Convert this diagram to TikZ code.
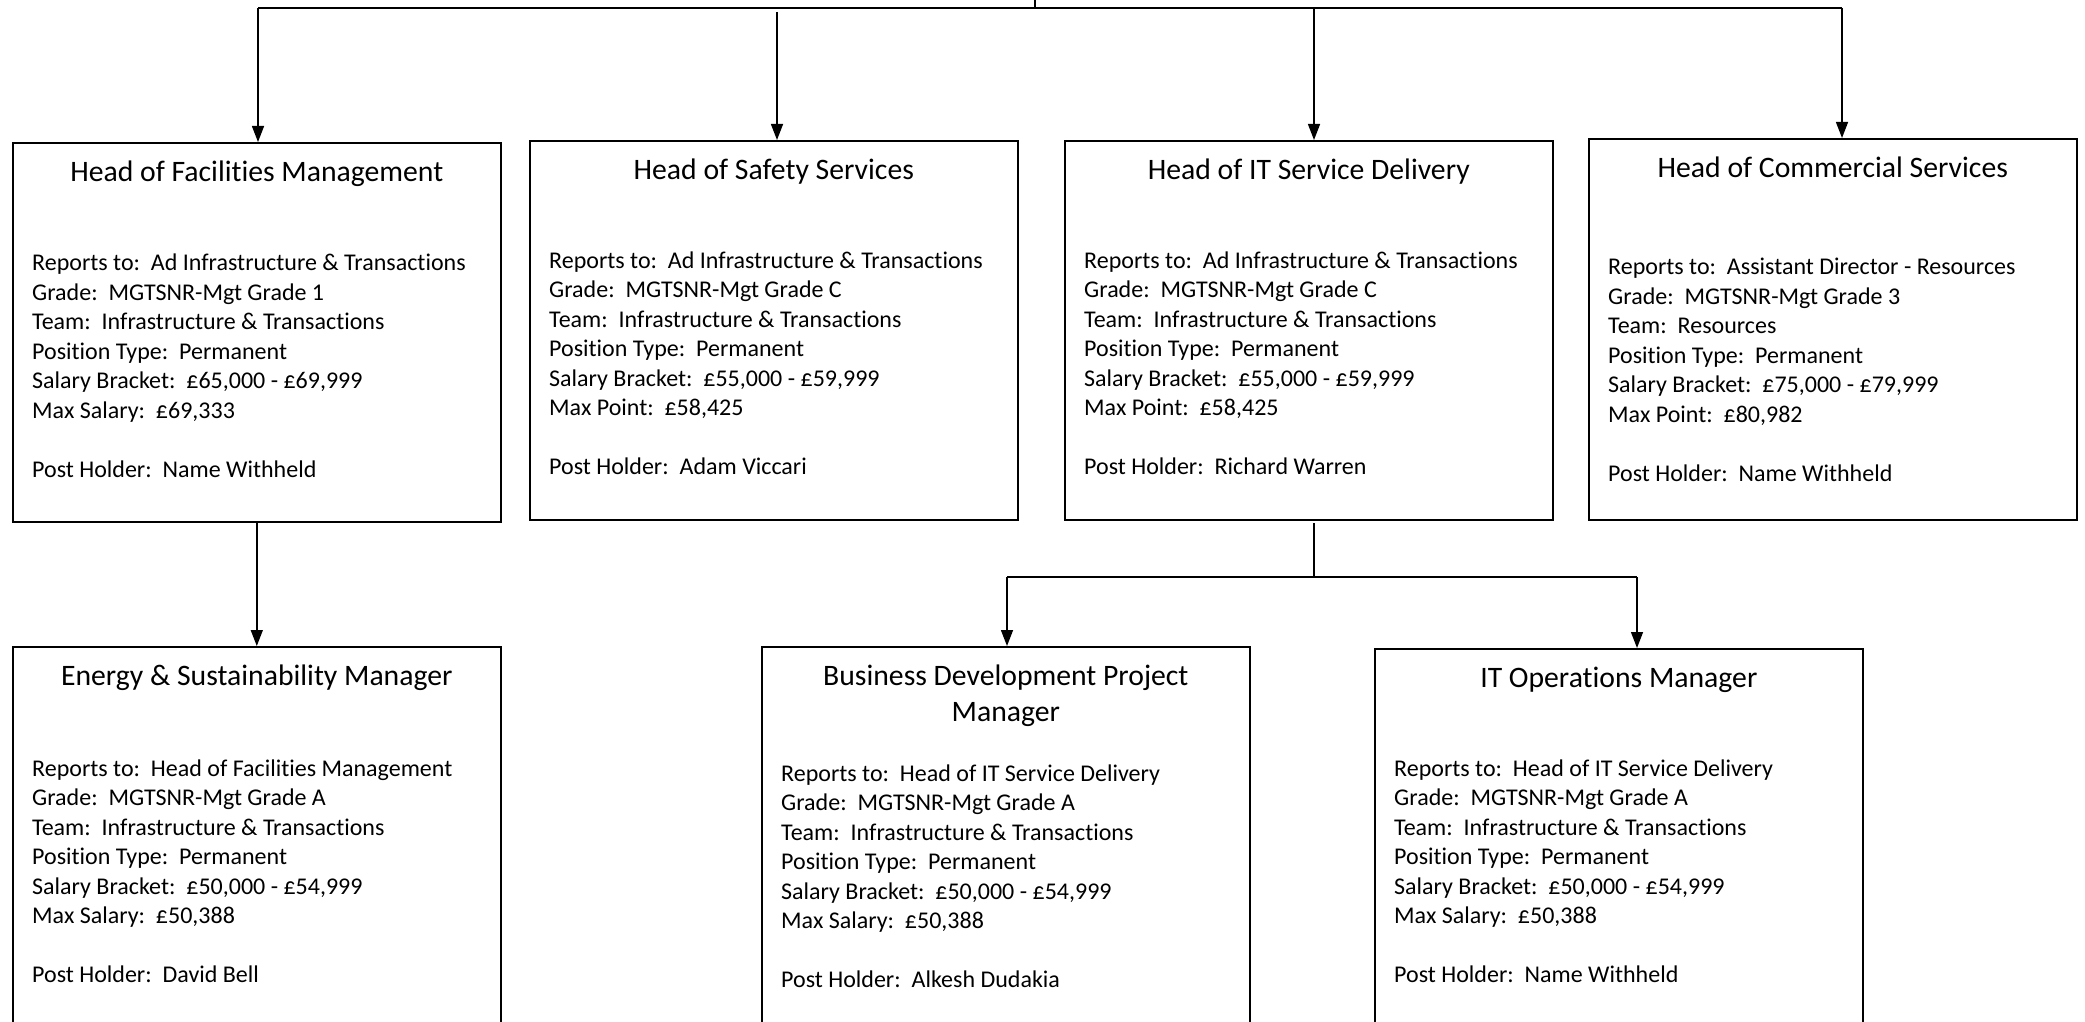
\documentclass[tikz,border=0pt]{standalone}
\usepackage{fontspec}
\setmainfont{Carlito}[Ligatures=NoCommon]
\usetikzlibrary{arrows.meta}
\tikzset{
  box/.style={draw, line width=1.6pt, anchor=north west, inner sep=0pt, minimum width=488pt},
  conn/.style={line width=1.4pt},
  arr/.style={conn, -{Triangle[length=16pt,width=12pt]}},
  ttl/.style={font=\fontsize{29.7}{36}\selectfont, anchor=base, inner sep=0pt},
  bodyline/.style={font=\fontsize{24}{29}\selectfont, anchor=base west, inner sep=0pt},
}
\newcommand\putbody[4]{% prefix, x, first baseline, six lines
  \foreach \t [count=\i] in {#4} {
    \node[bodyline] (#1l\i) at (#2, {#3+29.5*(\i-1)}) {\t};
  }
}
\begin{document}
\begin{tikzpicture}[x=1pt,y=-1pt]
\useasboundingbox (0,0) rectangle (2085,1022);
\clip (0,0) rectangle (2085,1022);

% boxes
\node[box, minimum height=379pt] (b1) at (12,142) {};
\node[box, minimum height=379pt] (b2) at (529,140) {};
\node[box, minimum height=379pt] (b3) at (1064,140) {};
\node[box, minimum height=381pt] (b4) at (1588,138) {};
\node[box, minimum height=420pt] (b5) at (12,646) {};
\node[box, minimum height=420pt] (b6) at (761,646) {};
\node[box, minimum height=420pt] (b7) at (1374,648) {};

% titles
\node[ttl] (t1) at (b1.north |- 0,182) {Head of Facilities Management};
\node[ttl] (t2) at (b2.north |- 0,179) {Head of Safety Services};
\node[ttl] (t3) at (b3.north |- 0,179) {Head of IT Service Delivery};
\node[ttl] (t4) at (b4.north |- 0,177.5) {Head of Commercial Services};
\node[ttl] (t5) at (b5.north |- 0,685.5) {Energy \& Sustainability Manager};
\node[ttl] (t6a) at (b6.north |- 0,685.5) {Business Development Project};
\node[ttl] (t6b) at (b6.north |- 0,721.5) {Manager};
\node[ttl] (t7) at (b7.north |- 0,687) {IT Operations Manager};

% bodies
\putbody{b1}{32}{270.5}{{Reports to:\ \ Ad Infrastructure \& Transactions},{Grade:\ \ MGTSNR-Mgt Grade 1},{Team:\ \ Infrastructure \& Transactions},{Position Type:\ \ Permanent},{Salary Bracket:\ \ £65,000 - £69,999},{Max Salary:\ \ £69,333}}
\node[bodyline] (b1ph) at (32,{270.5+29.5*7}) {Post Holder:\ \ Name Withheld};

\putbody{b2}{549}{268}{{Reports to:\ \ Ad Infrastructure \& Transactions},{Grade:\ \ MGTSNR-Mgt Grade C},{Team:\ \ Infrastructure \& Transactions},{Position Type:\ \ Permanent},{Salary Bracket:\ \ £55,000 - £59,999},{Max Point:\ \ £58,425}}
\node[bodyline] (b2ph) at (549,{268+29.5*7}) {Post Holder:\ \ Adam Viccari};

\putbody{b3}{1084}{268}{{Reports to:\ \ Ad Infrastructure \& Transactions},{Grade:\ \ MGTSNR-Mgt Grade C},{Team:\ \ Infrastructure \& Transactions},{Position Type:\ \ Permanent},{Salary Bracket:\ \ £55,000 - £59,999},{Max Point:\ \ £58,425}}
\node[bodyline] (b3ph) at (1084,{268+29.5*7}) {Post Holder:\ \ Richard Warren};

\putbody{b4}{1608}{274.5}{{Reports to:\ \ Assistant Director - Resources},{Grade:\ \ MGTSNR-Mgt Grade 3},{Team:\ \ Resources},{Position Type:\ \ Permanent},{Salary Bracket:\ \ £75,000 - £79,999},{Max Point:\ \ £80,982}}
\node[bodyline] (b4ph) at (1608,{274.5+29.5*7}) {Post Holder:\ \ Name Withheld};

\putbody{b5}{32}{776}{{Reports to:\ \ Head of Facilities Management},{Grade:\ \ MGTSNR-Mgt Grade A},{Team:\ \ Infrastructure \& Transactions},{Position Type:\ \ Permanent},{Salary Bracket:\ \ £50,000 - £54,999},{Max Salary:\ \ £50,388}}
\node[bodyline] (b5ph) at (32,{776+29.5*7}) {Post Holder:\ \ David Bell};

\putbody{b6}{781}{781}{{Reports to:\ \ Head of IT Service Delivery},{Grade:\ \ MGTSNR-Mgt Grade A},{Team:\ \ Infrastructure \& Transactions},{Position Type:\ \ Permanent},{Salary Bracket:\ \ £50,000 - £54,999},{Max Salary:\ \ £50,388}}
\node[bodyline] (b6ph) at (781,{781+29.5*7}) {Post Holder:\ \ Alkesh Dudakia};

\putbody{b7}{1394}{776}{{Reports to:\ \ Head of IT Service Delivery},{Grade:\ \ MGTSNR-Mgt Grade A},{Team:\ \ Infrastructure \& Transactions},{Position Type:\ \ Permanent},{Salary Bracket:\ \ £50,000 - £54,999},{Max Salary:\ \ £50,388}}
\node[bodyline] (b7ph) at (1394,{776+29.5*7}) {Post Holder:\ \ Name Withheld};

% connectors
\coordinate (root) at (1035,-2);
\coordinate (bus) at (1035,8);
\coordinate (x1) at (258,8);
\coordinate (x2) at (777,8);
\coordinate (x2s) at (777,12);
\coordinate (x3) at (1314,8);
\coordinate (x4) at (1842,8);
\draw[conn] (root) -- (bus);
\draw[conn] (x1) -- (x4);
\draw[arr] (x1) -- (x1 |- b1.north);
\draw[arr] (x2s) -- (x2s |- b2.north);
\draw[arr] (x3) -- (x3 |- b3.north);
\draw[arr] (x4) -- (x4 |- b4.north);

\draw[arr] (b1.south |- 0,522) -- (b1.south |- b5.north);

\coordinate (s3) at (1314,523);
\coordinate (m3) at (1314,577);
\coordinate (l3) at (1007,577);
\coordinate (r3) at (1637,577);
\draw[conn] (s3) -- (m3);
\draw[conn] (l3) -- (r3);
\draw[arr] (l3) -- (l3 |- b6.north);
\draw[arr] (r3) -- (r3 |- b7.north);
\end{tikzpicture}
\end{document}
